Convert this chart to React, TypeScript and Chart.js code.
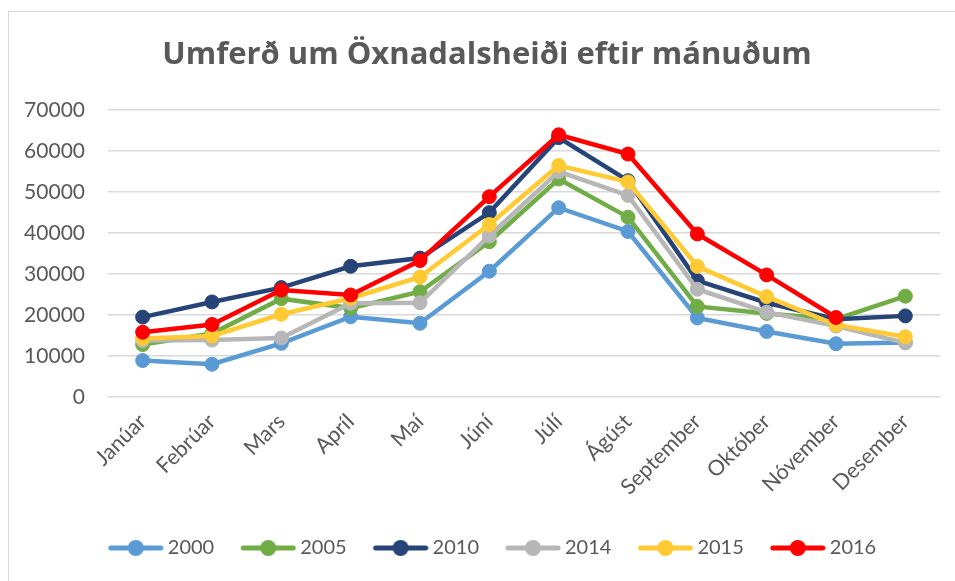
import React, { useEffect, useRef } from "react";
import { Chart, registerables } from "chart.js";

Chart.register(...registerables);

const months = ["Janúar", "Febrúar", "Mars", "Apríl", "Maí", "Júní", "Júlí", "Ágúst", "September", "Október", "Nóvember", "Desember"];
const years = ["2000", "2005", "2010", "2014", "2015", "2016"];
const colors = ["#5b9bd5", "#70ad47", "#264478", "#b7b7b7", "#ffca33", "#ff0000"];

const v2000 = [8900, 8000, 13100, 19600, 18000, 30700, 46200, 40400, 19300, 16000, 13000, 13300];
const v2005 = [12800, 15500, 24000, 21700, 25700, 37900, 53200, 43900, 22100, 20400, 19000, 24600];
const v2010 = [19500, 23200, 26700, 31900, 33900, 45000, 63300, 52800, 28400, 23000, 19000, 19800];
const v2014 = [13800, 13900, 14400, 22900, 23000, 39300, 55000, 49200, 26300, 20700, 17300, 13200];
const v2015 = [14300, 14900, 20200, 24100, 29300, 42100, 56500, 52500, 31900, 24500, 17600, 14700];
const v2016 = [15800, 17700, 26100, 24900, 33300, 48900, 64000, 59300, 39800, 29800, 19400, null];

const series = [v2000, v2005, v2010, v2014, v2015, v2016];
const yTicks = [0, 10000, 20000, 30000, 40000, 50000, 60000, 70000];

const FONT = "Lato, 'Open Sans', sans-serif";
const TITLE_FONT = "'Open Sans', Lato, sans-serif";
const GREY = "#595959";

function legendImage(color: string): HTMLCanvasElement {
  const c = document.createElement("canvas");
  c.width = 72;
  c.height = 18;
  const ctx = c.getContext("2d")!;
  ctx.strokeStyle = color;
  ctx.lineWidth = 5;
  ctx.lineCap = "round";
  ctx.beginPath();
  ctx.moveTo(19, 9);
  ctx.lineTo(69, 9);
  ctx.stroke();
  ctx.fillStyle = color;
  ctx.beginPath();
  ctx.arc(44, 9, 8, 0, Math.PI * 2);
  ctx.fill();
  return c;
}

export default function App() {
  const ref = useRef<HTMLCanvasElement>(null);

  useEffect(() => {
    document.documentElement.style.overflow = "hidden";
    document.body.style.overflow = "hidden";
    const imgs = colors.map(legendImage);
    const chart = new Chart(ref.current!, {
      type: "line",
      data: {
        labels: months,
        datasets: years.map((y, i) => ({
          label: y,
          data: series[i],
          borderColor: colors[i],
          backgroundColor: colors[i],
          pointBackgroundColor: colors[i],
          pointBorderColor: colors[i],
          borderWidth: 4.5,
          pointRadius: 7,
          pointBorderWidth: 1,
          tension: 0,
          order: years.length - 1 - i,
          spanGaps: false,
        })),
      },
      options: {
        animation: false,
        responsive: false,
        maintainAspectRatio: false,
        layout: { padding: { left: 0, right: 0, top: 0, bottom: 13 } },
        plugins: {
          title: {
            display: true,
            text: "Umferð um Öxnadalsheiði eftir mánuðum",
            color: GREY,
            font: { family: TITLE_FONT, size: 31, weight: "bold" },
            padding: { top: 25, bottom: 36 },
          },
          legend: {
            position: "bottom",
            labels: {
              color: GREY,
              font: { family: FONT, size: 20 },
              usePointStyle: true,
              pointStyleWidth: 60,
              padding: 16,
              sort: (a: any, b: any) => a.datasetIndex - b.datasetIndex,
              generateLabels: (chart: any) => {
                const items = Chart.defaults.plugins.legend.labels.generateLabels(chart);
                return items.map((it: any) => ({ ...it, pointStyle: imgs[it.datasetIndex] }));
              },
            },
          },
          tooltip: { enabled: false },
        },
        scales: {
          x: {
            offset: true,
            grid: { display: false },
            border: { display: false },
            ticks: {
              color: GREY,
              font: { family: FONT, size: 21.5 },
              minRotation: 45,
              maxRotation: 45,
              autoSkip: false,
              padding: 4,
            },
            afterFit: (s: any) => {
              s.height = 125;
            },
          },
          y: {
            min: 0,
            max: 70000,
            grid: { color: "#d9d9d9", lineWidth: 1.5, drawTicks: false },
            border: { display: false },
            afterBuildTicks: (s: any) => {
              s.ticks = yTicks.map((v) => ({ value: v }));
            },
            ticks: {
              color: GREY,
              font: { family: FONT, size: 21 },
              padding: 23,
              callback: (v: any) => String(v),
            },
            afterFit: (s: any) => {
              s.width = 99;
            },
          },
          spacer: {
            type: "linear",
            position: "right",
            display: true,
            grid: { display: false, drawTicks: false },
            border: { display: false },
            ticks: { display: false },
            afterFit: (s: any) => {
              s.width = 25;
            },
          },
        },
      },
    });
    return () => chart.destroy();
  }, []);

  return (
    <div
      style={{
        position: "absolute",
        left: 8,
        top: 11,
        width: 947,
        height: 570,
        borderLeft: "1px solid #d9d9d9",
        borderTop: "1px solid #d9d9d9",
        boxSizing: "border-box",
        background: "#fff",
        overflow: "hidden",
      }}
    >
      <canvas ref={ref} width={956} height={569} style={{ display: "block" }} />
    </div>
  );
}
